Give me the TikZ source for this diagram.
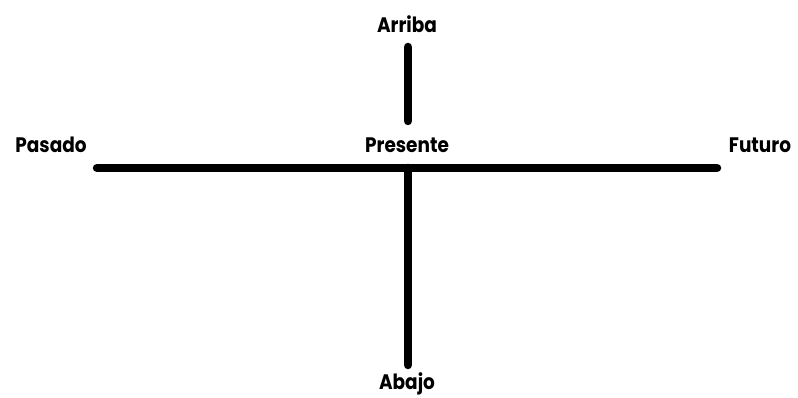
\documentclass[tikz,border=0pt]{standalone}
\usepackage{fontspec}
\setmainfont{Poppins}[UprightFont=* SemiBold, BoldFont=* Bold, BoldFeatures={FakeStretch=0.88}]
\begin{document}
\begin{tikzpicture}[x=1pt,y=1pt,
  lbl/.style={font=\bfseries\fontsize{21}{24}\selectfont, inner sep=0pt},
  axis/.style={line width=8.5pt, line cap=round}]
\useasboundingbox (0,0) rectangle (798,398);
\node[lbl] (arriba) at (407,374) {Arriba};
\node[lbl] (presente) at (407,253) {Presente};
\node[lbl] (pasado) at (51,253) {Pasado};
\node[lbl] (futuro) at (760,253) {Futuro};
\node[lbl] (abajo) at (407,14) {Abajo};
\coordinate (topA) at (408,351);
\coordinate (topB) at (408,277);
\coordinate (left) at (97,230);
\coordinate (right) at (717,230);
\coordinate (mid) at (408,230);
\coordinate (bot) at (408,33);
\draw[axis] (topA) -- (topB);
\draw[axis] (left) -- (right);
\draw[axis] (mid) -- (bot);
\end{tikzpicture}
\end{document}
